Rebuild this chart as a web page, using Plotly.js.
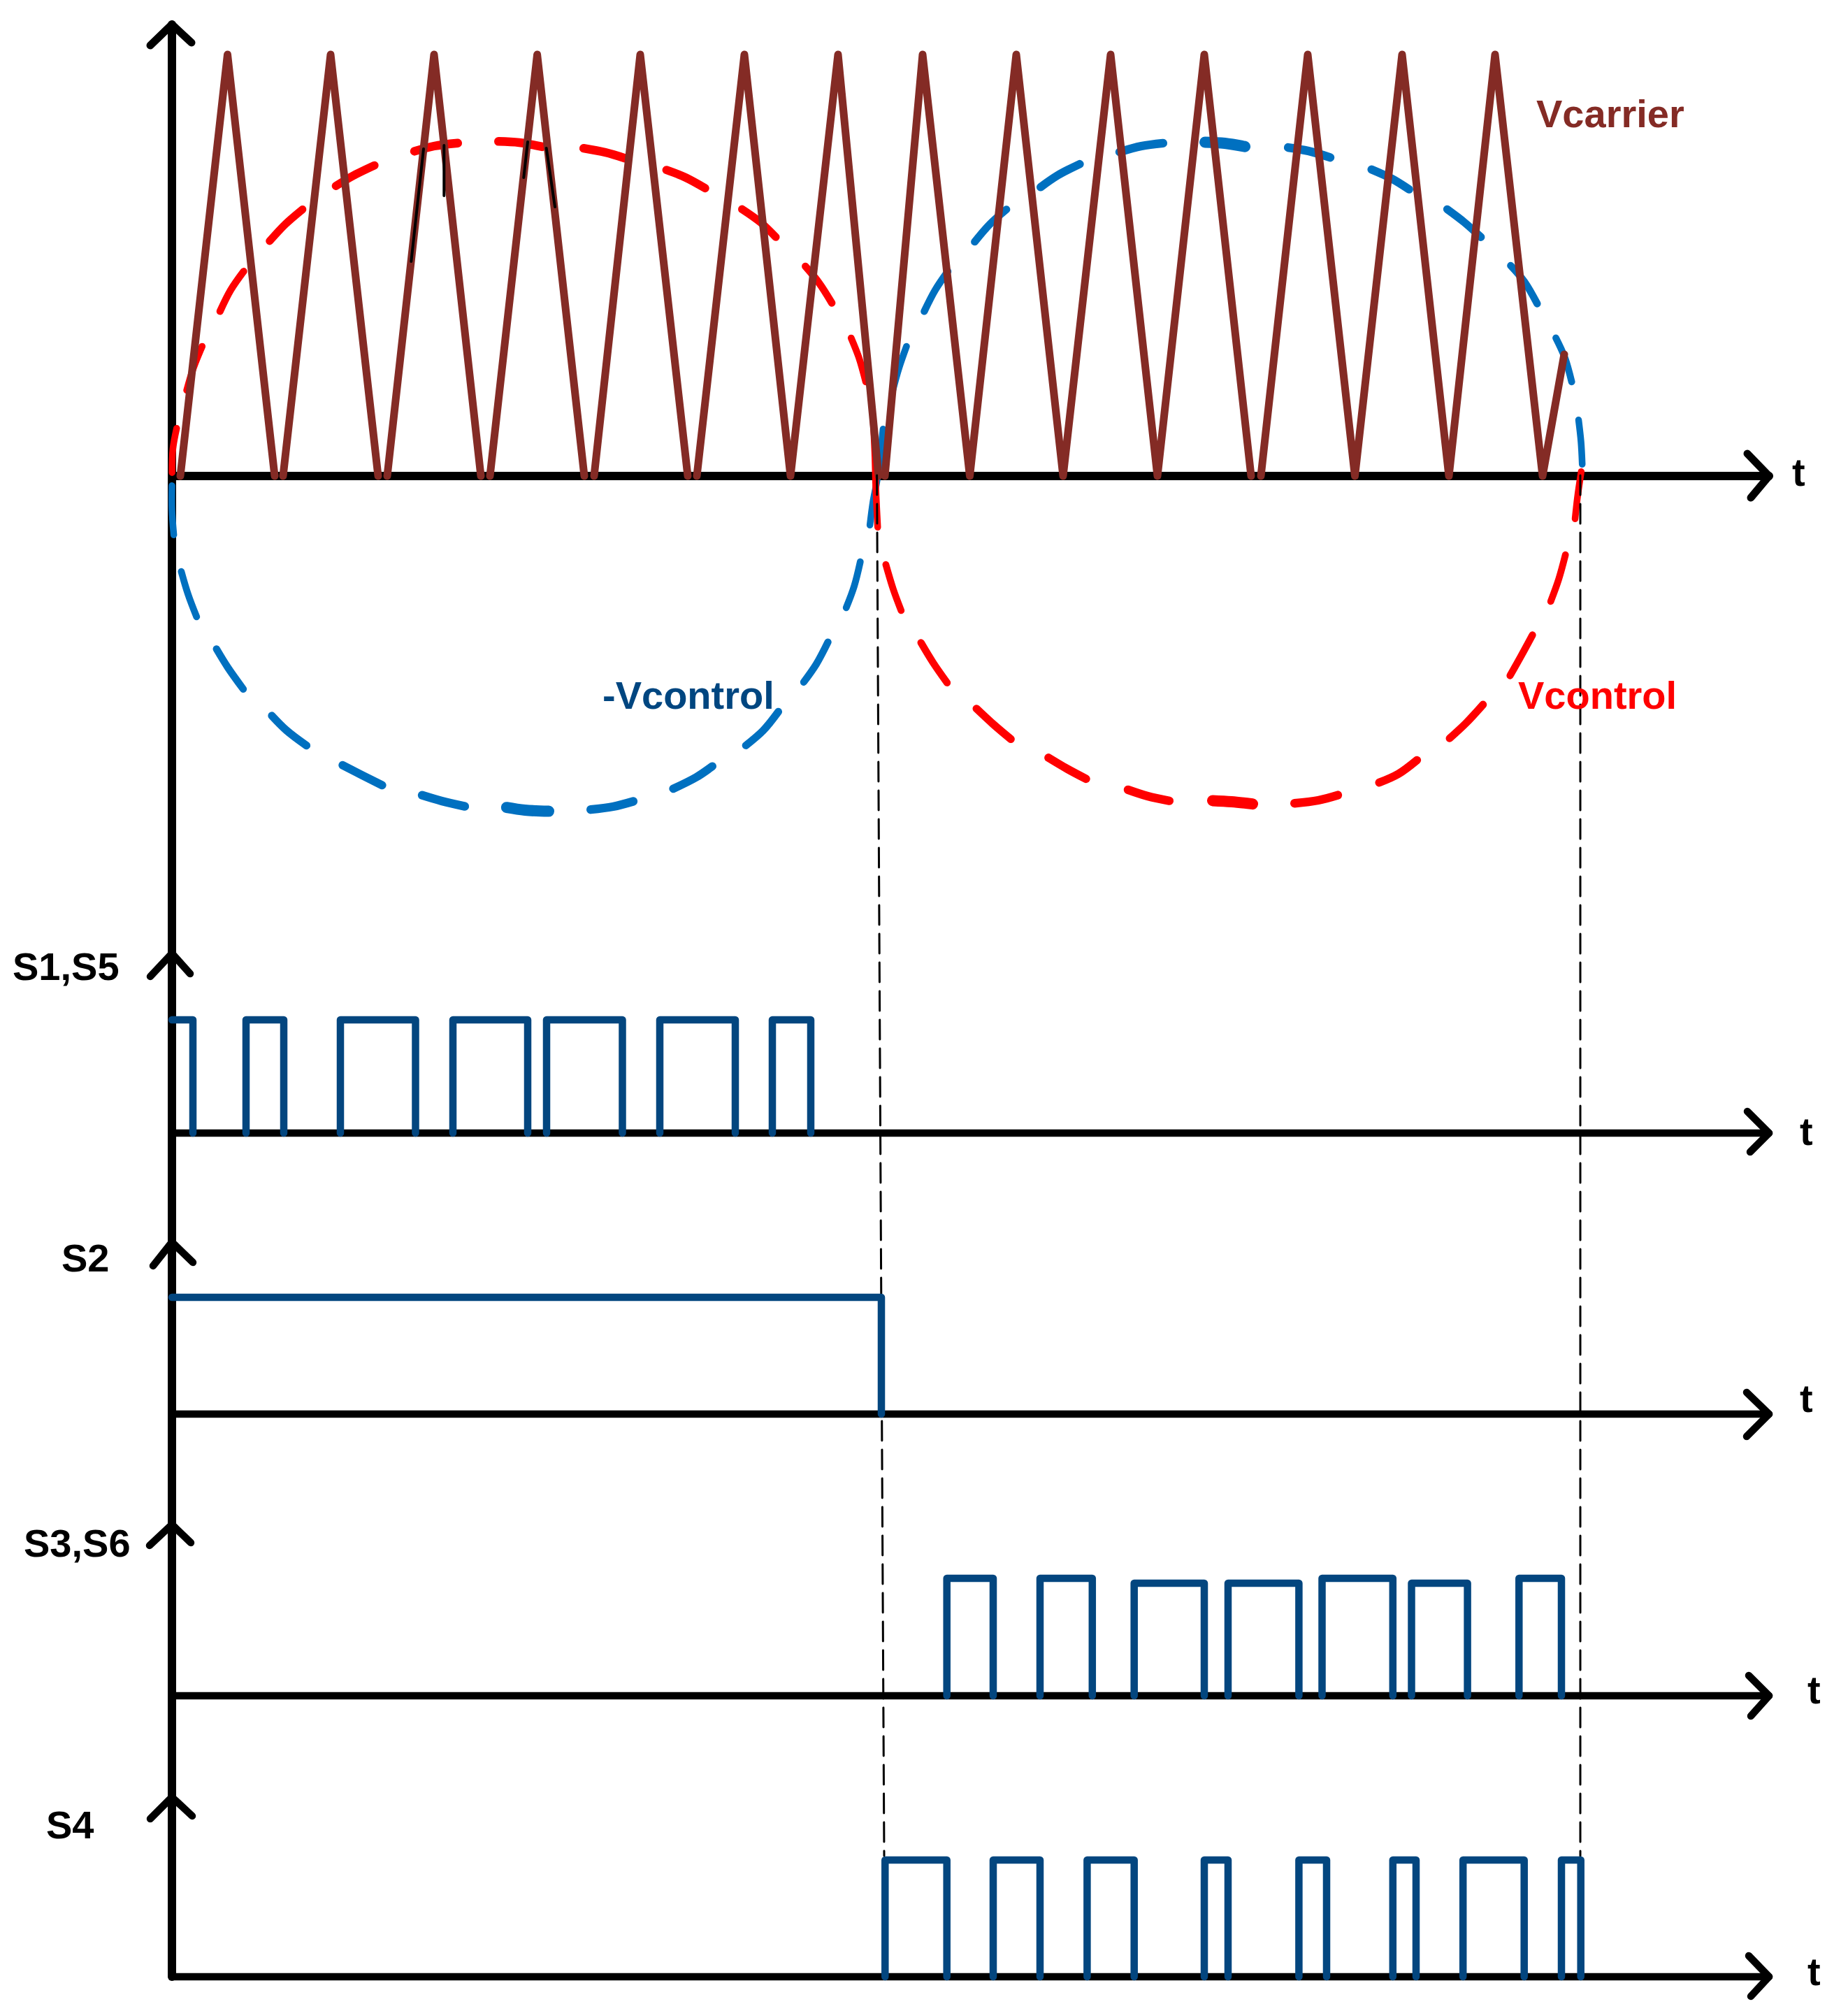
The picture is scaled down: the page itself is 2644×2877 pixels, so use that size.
<!DOCTYPE html>
<html><head><meta charset="utf-8">
<script src="https://cdn.plot.ly/plotly-3.0.1.min.js"></script>
<style>html,body{margin:0;padding:0;background:#fff}</style></head>
<body><div id="chart" style="width:2644px;height:2877px"></div>
<script>
// Carrier: triangles, null = pen lift
const carrierT=[12,79.5,147,null,159,227,295,null,308,375,442,null,455,522.6,590,null,604,670,738,null,751,819,885,953,1011,null,1020,1074,1141.5,1208,1275,1343,1410,1477,1544,null,1558,1625,1692.5,1760,1827,1893,1961,1992];
const carrierV=[0,603,0,null,0,603,0,null,0,603,0,null,0,603,0,null,0,603,0,null,0,603,0,603,0,null,0,603,0,603,0,603,0,603,0,null,0,603,0,603,0,603,0,174];
// Vcontrol dashes
const redT=[[0,1.4,7.6],[19.8,30.5,45],[66.5,84,105.5],[136,162,191],[229.5,260,295],[341,375,415],[461,497,536],[583,620,654],[702,735,768],[811,842,868],[903,926,947],[970,983,994],[1003,1005.5,1007,1010],[1020,1032,1045],[1069,1089,1112],[1147,1175,1204.5],[1249,1281,1313],[1362,1396,1433],[1481,1516,1554],[1600,1640,1674],[1722,1755,1786],[1824,1852,1879.5],[1912,1930,1949],[1971,1984,1995],[2007,2011,2017]];
const redV=[[0,39,73],[118,154,190],[231,266,297],[332,360,385],[412,430,447],[463,472,477],[479,477,470],[470,463,453],[440,427,409],[385,363,338],[304,276,243],[202,169,130],[85,34,-16,-78],[-122,-162,-197],[-234,-267,-300],[-329,-355,-380],[-400,-419,-436],[-447,-458,-466],[-464,-466,-470],[-469,-464,-455],[-441,-426,-403],[-379,-353,-323],[-290,-258,-223],[-184,-148,-108],[-66,-30,11]];
// -Vcontrol dashes
const blueT=[[0,0,3],[12,23,37],[61,80,105],[139,164,197],[239,272,306],[352,386,425],[471,505,547],[593,631,666],[712,750,778],[817,846,871],[901,922,941],[963,976,986],[998,1003,1009,1018],[1029.5,1040,1052.5],[1074,1092,1113],[1145,1170,1198],[1238,1267,1304],[1350,1387,1424],[1470,1506.5,1543],[1591,1626,1663],[1711,1746,1775],[1820,1849,1877],[1912,1935,1956],[1978,1993,2004],[2012,2016,2018]];
const blueV=[[-9,-48,-89],[-132,-169,-206],[-243,-274,-309],[-339,-364,-389],[-411,-428,-445],[-455,-465,-474],[-473,-478,-480],[-478,-473,-464],[-450,-431,-412],[-389,-364,-333],[-299,-269,-233],[-193,-158,-118],[-75,-37,-5,72],[116,154,190],[231,266,297],[331,360,385],[410,430,449],[462,472,477],[478,476,470],[471,465,454],[441,425,407],[385,363,338],[305,278,242],[202,169,130],[85,49,12]];
const redThick=[18];
const blueThick=[6,18];
// Stray pen strokes over the carrier
const strayT=[342.3,360,null,389.3,389.3,null,503.3,509,null,535.7,548];
const strayV=[307,468,null,473,401,null,427,478,null,469,385];
// Switching signals: rise and fall times, on-levels
const s1Rise=[0,106,241,402,536,698,859];
const s1Fall=[30,160,348.5,509,644.5,806,914];
const s1Level=[162,162,162,162,162,162,162];
const s2Rise=[0];
const s2Fall=[1015];
const s2Level=[167];
const s3Rise=[1108.7,1242,1376.7,1511,1645.5,1773.5,1927.3];
const s3Fall=[1175,1316.8,1477,1612.4,1746.8,1853.6,1988];
const s3Level=[168,168,161,161,168,161,168];
const s4Rise=[1020.3,1175,1309.4,1477,1612.4,1746.8,1847.2,1988];
const s4Fall=[1108.7,1242,1376.7,1511,1652,1780,1934.7,2015.7];
const s4Level=[167,167,167,167,167,167,167,167];
// Guides
const guide1T=[1008.6,1012,1016,1019];
const guide1V=[1,-659,-1375,-1974];
const guide2T=[2015,2015];
const guide2V=[1,-1974];
// Axes
const vAxisT=[0,0];
const vAxisV=[646,-2147];
const timeEnd=2285;
const upArrowT=[[-31,0,28],[-31,0,26],[-27,0,30],[-32,0,27],[-31,0,29]];
const upArrowV=[[616,646,620],[224,257,228],[212,246,217],[215,245,219],[226,257,230]];
const rightArrowT=[[2254,2285,2259],[2254,2285,2258],[2253,2285,2253],[2256,2285,2259],[2256,2285,2259]];
const rightArrowV=[[32,0,-31],[31,0,-27],[31,0,-32],[29,0,-29],[30,0,-28]];
const panelBase=[681,1621,2023,2426,2828];
// Labels
const labelTexts=['Vcarrier','-Vcontrol','Vcontrol','S1,S5','S2','S3,S6','S4','t','t','t','t','t'];
const labelT=[2058,739,2039,-152,-123.5,-136,-146,2327,2338,2338,2349,2349];
const labelV=[519,-313,-313,239,224,218.5,218,5.5,3,23,9,8];
const labelPanel=[0,0,0,1,2,3,4,0,1,2,3,4];
const labelColor=['#842B25','#004680','#FF0000','#000','#000','#000','#000','#000','#000','#000','#000','#000'];

const H=2877;
const BLACK='#000000',BROWN='#842B25',RED='#FF0000',BLUE='#0070C0',NAVY='#03467F';
const yName=i=>i===0?'y':'y'+(i+1);
const line=(x,y,color,width,panel,dash,shape)=>({type:'scatter',mode:'lines',x,y,yaxis:yName(panel||0),xaxis:'x',hoverinfo:'skip',connectgaps:false,line:{color,width,dash:dash||'solid',shape:shape||'linear'}});
// Round caps add half a line width to each end of a dash, so the ends are pulled in by that much.
function dashTraces(T,V,color,thick){
  return T.map((t,i)=>{
    const v=V[i],n=t.length-1;
    const dt=Math.abs(t[n]-t[0]),dv=Math.abs(v[n]-v[0]);
    const h=dt*dt/(dt*dt+dv*dv);
    const w=thick.includes(i)?16:9.5+3*h;
    const inset=(a,b)=>{const d=Math.hypot(b[0]-a[0],b[1]-a[1])||1;const k=Math.min(w/2,d/3)/d;return [a[0]+(b[0]-a[0])*k,a[1]+(b[1]-a[1])*k];};
    const p0=inset([t[0],v[0]],[t[1],v[1]]),pn=inset([t[n],v[n]],[t[n-1],v[n-1]]);
    const x=t.slice(),y=v.slice();
    x[0]=p0[0];y[0]=p0[1];x[n]=pn[0];y[n]=pn[1];
    return line(x,y,color,w,0,null,'spline');
  });
}
function pulses(rise,fall,level){
  const x=[],y=[];
  rise.forEach((r,i)=>{
    if(r>0){x.push(r);y.push(0);}          // a pulse already on at t=0 has no rising edge
    x.push(r,fall[i],fall[i],null);y.push(level[i],level[i],0,null);
  });
  return {x,y};
}
const traces=[];
traces.push(line(vAxisT,vAxisV,BLACK,12,0));
traces.push(line([0,timeEnd],[0,0],BLACK,12,0));
traces.push(line(upArrowT[0],upArrowV[0],BLACK,11,0));
traces.push(line(rightArrowT[0],rightArrowV[0],BLACK,11,0));
traces.push(...dashTraces(blueT,blueV,BLUE,blueThick));
traces.push(...dashTraces(redT,redV,RED,redThick));
traces.push(line(carrierT,carrierV,BROWN,11,0));
traces.push(line(strayT,strayV,BLACK,4,0));
traces.push(line(guide1T,guide1V,BLACK,3,0,'28px,13px'));
traces.push(line(guide2T,guide2V,BLACK,3,0,'28px,13px'));
const sig=[[s1Rise,s1Fall,s1Level],[s2Rise,s2Fall,s2Level],[s3Rise,s3Fall,s3Level],[s4Rise,s4Fall,s4Level]];
sig.forEach((s,k)=>{
  const p=k+1;
  traces.push(line([0,timeEnd],[0,0],BLACK,10.6,p));
  traces.push(line(upArrowT[p],upArrowV[p],BLACK,10.5,p));
  traces.push(line(rightArrowT[p],rightArrowV[p],BLACK,10.5,p));
  const d=pulses(s[0],s[1],s[2]);
  traces.push(line(d.x,d.y,NAVY,10.5,p));
});
const layout={
  width:2644,height:H,margin:{l:0,r:0,t:0,b:0},showlegend:false,
  paper_bgcolor:'#fff',plot_bgcolor:'rgba(0,0,0,0)',
  xaxis:{range:[-246,2398],domain:[0,1],visible:false,fixedrange:true},
  annotations:labelTexts.map((t,i)=>({
    text:t,x:labelT[i],y:labelV[i],xref:'x',yref:yName(labelPanel[i]),
    xanchor:'center',yanchor:'middle',showarrow:false,
    font:{family:'"Liberation Sans",Arial,sans-serif',size:56,color:labelColor[i],weight:700}
  }))
};
panelBase.forEach((b,i)=>{
  const key=i===0?'yaxis':'yaxis'+(i+1);
  layout[key]={range:[b-H,b],domain:[0,1],visible:false,fixedrange:true,anchor:'x'};
  if(i>0)layout[key].overlaying='y';
});
Plotly.newPlot('chart',traces,layout,{displayModeBar:false,responsive:false}).then(()=>{
  document.querySelectorAll('.scatterlayer path.js-line').forEach(p=>{
    p.style.strokeLinecap='round';p.style.strokeLinejoin='round';
  });
});
</script></body></html>
